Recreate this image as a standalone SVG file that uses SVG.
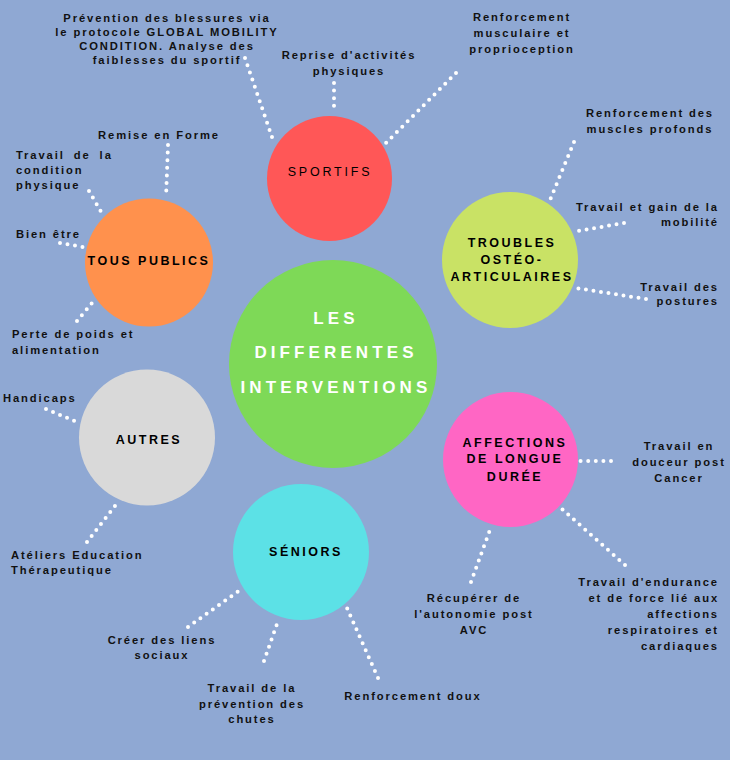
<svg xmlns="http://www.w3.org/2000/svg" width="730" height="760" viewBox="0 0 730 760">
<style>
.lbl{font-family:"Liberation Sans",Arial,sans-serif;font-weight:bold;font-size:11.2px;letter-spacing:1.9px;fill:#111}
.c{text-anchor:middle}
.r{text-anchor:end}
.node{font-family:"Liberation Sans",Arial,sans-serif;font-weight:bold;font-size:12.5px;letter-spacing:2.5px;fill:#000;text-anchor:middle}
.title{font-family:"Liberation Sans",Arial,sans-serif;font-weight:bold;font-size:17px;letter-spacing:4.1px;fill:#fff;text-anchor:middle}
.dots line{stroke:#fff;stroke-width:4;stroke-linecap:round;stroke-dasharray:0 7.6;fill:none}
</style>
<rect width="730" height="760" fill="#8fa8d3"/>
<g id="connectors" class="dots">
<line x1="245" y1="58" x2="274" y2="143"/>
<line x1="334" y1="83" x2="334" y2="113"/>
<line x1="456" y1="73" x2="384" y2="145"/>
<line x1="574" y1="142" x2="550" y2="200"/>
<line x1="624" y1="223" x2="578" y2="231"/>
<line x1="646" y1="299" x2="576" y2="288"/>
<line x1="168" y1="145" x2="166" y2="198"/>
<line x1="89" y1="191" x2="103" y2="215"/>
<line x1="60" y1="243" x2="83" y2="247"/>
<line x1="77" y1="321" x2="92" y2="303"/>
<line x1="46" y1="409" x2="77" y2="422"/>
<line x1="87" y1="542" x2="118" y2="502"/>
<line x1="188" y1="627" x2="243" y2="588"/>
<line x1="264" y1="661" x2="278" y2="621"/>
<line x1="378" y1="678" x2="347" y2="608"/>
<line x1="471" y1="582" x2="491" y2="527"/>
<line x1="625" y1="565" x2="562" y2="509"/>
<line x1="611" y1="461" x2="580" y2="461"/>
</g>
<g id="center">
<circle cx="333" cy="364" r="104" fill="#7ed957"/>
<text class="title" x="336" y="324">LES</text>
<text class="title" x="336" y="358">DIFFERENTES</text>
<text class="title" x="336" y="393">INTERVENTIONS</text>
</g>
<g id="sportifs">
<circle cx="329.5" cy="178.5" r="62.5" fill="#ff5757"/>
<text class="node" x="330" y="175.5" style="font-weight:normal;letter-spacing:2.8px">SPORTIFS</text>
</g>
<g id="troubles">
<circle cx="510" cy="260" r="68" fill="#c9e265"/>
<text class="node" x="512" y="246.5">TROUBLES</text>
<text class="node" x="512" y="263.5">OSTÉO-</text>
<text class="node" x="512" y="280.5">ARTICULAIRES</text>
</g>
<g id="tous-publics">
<circle cx="149" cy="262.5" r="64" fill="#ff914d"/>
<text class="node" x="149" y="265">TOUS PUBLICS</text>
</g>
<g id="autres">
<circle cx="147" cy="437.5" r="68" fill="#d9d9d9"/>
<text class="node" x="149" y="443.5">AUTRES</text>
</g>
<g id="affections">
<circle cx="510.5" cy="459.5" r="67.5" fill="#ff66c4"/>
<text class="node" x="515" y="446.5">AFFECTIONS</text>
<text class="node" x="515" y="462.5">DE LONGUE</text>
<text class="node" x="515" y="480.5">DURÉE</text>
</g>
<g id="seniors">
<circle cx="301" cy="552" r="68" fill="#5ce1e6"/>
<text class="node" x="306" y="555.5">SÉNIORS</text>
</g>
<g id="labels">
<text class="lbl c" x="167" y="22">Prévention des blessures via</text>
<text class="lbl c" x="167" y="36">le protocole GLOBAL MOBILITY</text>
<text class="lbl c" x="167" y="50">CONDITION. Analyse des</text>
<text class="lbl c" x="167" y="64">faiblesses du sportif</text>
<text class="lbl c" x="349" y="59">Reprise d'activités</text>
<text class="lbl c" x="349" y="75">physiques</text>
<text class="lbl c" x="522" y="21">Renforcement</text>
<text class="lbl c" x="522" y="37">musculaire et</text>
<text class="lbl c" x="522" y="53">proprioception</text>
<text class="lbl c" x="650" y="117">Renforcement des</text>
<text class="lbl c" x="650" y="133">muscles profonds</text>
<text class="lbl r" x="719" y="211">Travail et gain de la</text>
<text class="lbl r" x="719" y="226">mobilité</text>
<text class="lbl r" x="719" y="291">Travail des</text>
<text class="lbl r" x="719" y="305">postures</text>
<text class="lbl c" x="679" y="450">Travail en</text>
<text class="lbl c" x="679" y="466">douceur post</text>
<text class="lbl c" x="679" y="482">Cancer</text>
<text class="lbl r" x="719" y="586">Travail d'endurance</text>
<text class="lbl r" x="719" y="602">et de force lié aux</text>
<text class="lbl r" x="719" y="618">affections</text>
<text class="lbl r" x="719" y="634">respiratoires et</text>
<text class="lbl r" x="719" y="650">cardiaques</text>
<text class="lbl c" x="474" y="602">Récupérer de</text>
<text class="lbl c" x="474" y="618">l'autonomie post</text>
<text class="lbl c" x="474" y="634">AVC</text>
<text class="lbl c" x="413" y="700">Renforcement doux</text>
<text class="lbl c" x="252" y="692">Travail de la</text>
<text class="lbl c" x="252" y="708">prévention des</text>
<text class="lbl c" x="252" y="723">chutes</text>
<text class="lbl c" x="162" y="644">Créer des liens</text>
<text class="lbl c" x="162" y="659">sociaux</text>
<text class="lbl" x="11" y="559">Atéliers Education</text>
<text class="lbl" x="11" y="574">Thérapeutique</text>
<text class="lbl" x="3" y="402">Handicaps</text>
<text class="lbl" x="12" y="338">Perte de poids et</text>
<text class="lbl" x="12" y="354">alimentation</text>
<text class="lbl" x="16" y="238">Bien être</text>
<text class="lbl" x="16" y="159" style="word-spacing:4px">Travail de la</text>
<text class="lbl" x="16" y="174">condition</text>
<text class="lbl" x="16" y="189">physique</text>
<text class="lbl c" x="159" y="139">Remise en Forme</text>
</g>
</svg>
